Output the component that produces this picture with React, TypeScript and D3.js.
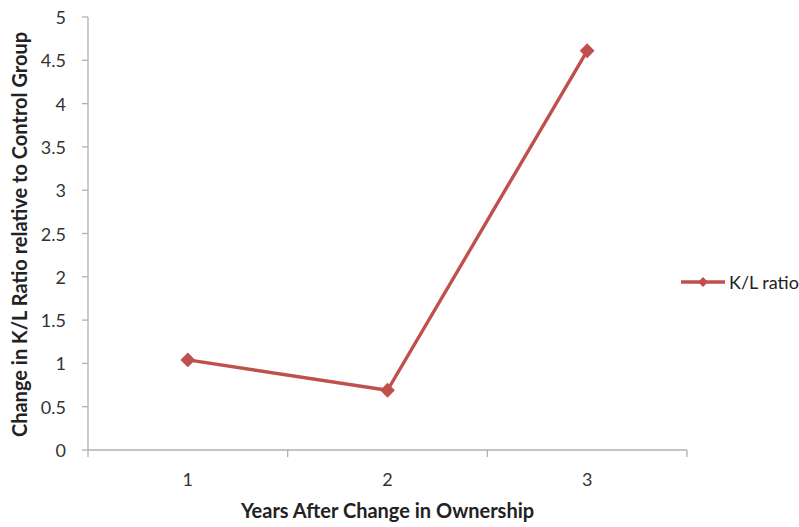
import React from "react";
import * as d3 from "d3";

const categories = ["1", "2", "3"];
const klRatio = [1.04, 0.69, 4.61];
const yTicks = [0, 0.5, 1, 1.5, 2, 2.5, 3, 3.5, 4, 4.5, 5];
const seriesName = "K/L ratio";
const xTitle = "Years After Change in Ownership";
const yTitle = "Change in K/L Ratio relative to Control Group";

const W = 799;
const H = 527;
const left = 88;
const right = 687;
const top = 17;
const bottom = 450;
const color = "#C0504D";
const axisColor = "#B0B0B0";
const font = "Lato, sans-serif";

export default function App() {
  const x = d3.scaleBand<string>().domain(categories).range([left, right]);
  const y = d3.scaleLinear().domain([0, 5]).range([bottom, top]);
  const pts: [number, number][] = categories.map((c, i) => [
    (x(c) as number) + x.bandwidth() / 2,
    y(klRatio[i]),
  ]);
  const line = d3.line()(pts) || "";
  const marker = d3.symbol().type(d3.symbolSquare).size(110)() || "";
  const legendMarker = d3.symbol().type(d3.symbolSquare).size(50)() || "";
  const xEdges = [...categories.map((c) => x(c) as number), right];

  return (
    <svg
      width={W}
      height={H}
      style={{ position: "absolute", left: 0, top: 0, background: "#fff" }}
      fontFamily={font}
    >
      {/* y axis */}
      <line x1={left} x2={left} y1={top} y2={bottom} stroke={axisColor} strokeWidth={1.3} />
      {yTicks.map((t) => (
        <g key={t}>
          <line x1={left - 6} x2={left} y1={y(t)} y2={y(t)} stroke={axisColor} strokeWidth={1.3} />
          <text
            x={left - 22}
            y={y(t)}
            textAnchor="end"
            dominantBaseline="central"
            fontSize={18}
            fill="#333"
          >
            {t}
          </text>
        </g>
      ))}
      {/* x axis */}
      <line x1={left} x2={right} y1={bottom} y2={bottom} stroke={axisColor} strokeWidth={1.3} />
      {xEdges.map((e, i) => (
        <line key={i} x1={e} x2={e} y1={bottom} y2={bottom + 7} stroke={axisColor} strokeWidth={1.3} />
      ))}
      {categories.map((c) => (
        <text
          key={c}
          x={(x(c) as number) + x.bandwidth() / 2}
          y={486}
          textAnchor="middle"
          fontSize={18}
          fill="#333"
        >
          {c}
        </text>
      ))}
      {/* titles */}
      <text x={(left + right) / 2} y={518} textAnchor="middle" fontSize={20} fontWeight="bold" fill="#222">
        {xTitle}
      </text>
      <text
        transform={`translate(27,${(top + bottom) / 2 + 1}) rotate(-90)`}
        textAnchor="middle"
        fontSize={20}
        fontWeight="bold"
        fill="#222"
      >
        {yTitle}
      </text>
      {/* series */}
      <path d={line} fill="none" stroke={color} strokeWidth={3.4} strokeLinejoin="round" />
      {pts.map((p, i) => (
        <path key={i} d={marker} transform={`translate(${p[0]},${p[1]}) rotate(45)`} fill={color} />
      ))}
      {/* legend */}
      <line x1={681} x2={725} y1={282} y2={282} stroke={color} strokeWidth={3.4} />
      <path d={legendMarker} transform="translate(703,282) rotate(45)" fill={color} />
      <text x={729} y={282} dominantBaseline="central" fontSize={18} fill="#222">
        {seriesName}
      </text>
    </svg>
  );
}
